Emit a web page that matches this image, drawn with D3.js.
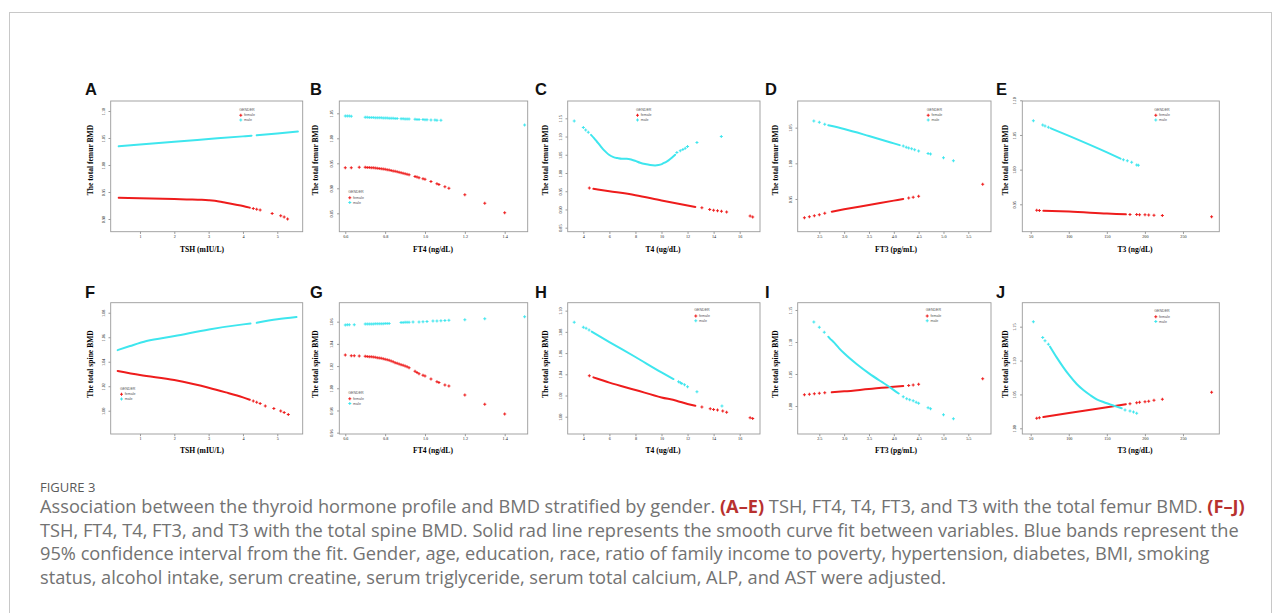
<!DOCTYPE html>
<html>
<head>
<meta charset="UTF-8">
<style>
  body { margin: 0; background: #fff; }
  svg { display: block; }
</style>
</head>
<body>
<svg width="1281" height="613"></svg>
<script src="https://cdn.jsdelivr.net/npm/d3@7"></script>
<script>

// ---- tick values ----
var xTicksTSH = [1, 2, 3, 4, 5];
var xTicksFT4 = [0.6, 0.8, 1.0, 1.2, 1.4];
var xTicksT4 = [4, 6, 8, 10, 12, 14, 16];
var xTicksFT3 = [2.5, 3.0, 3.5, 4.0, 4.5, 5.0, 5.5];
var xTicksT3 = [50, 100, 150, 200, 250];

var yTicksA = [0.90, 0.95, 1.00, 1.05, 1.10];
var yTicksB = [0.85, 0.90, 0.95, 1.00, 1.05];
var yTicksC = [0.85, 0.90, 0.95, 1.00, 1.05, 1.10, 1.15];
var yTicksD = [0.95, 1.00, 1.05];
var yTicksE = [0.95, 1.00, 1.05, 1.10];
var yTicksF = [1.00, 1.02, 1.04, 1.06, 1.08];
var yTicksG = [0.96, 0.98, 1.00, 1.02, 1.04, 1.06];
var yTicksH = [1.00, 1.02, 1.04, 1.06, 1.08, 1.10];
var yTicksI = [1.00, 1.05, 1.10, 1.15];
var yTicksJ = [1.00, 1.05, 1.10, 1.15];

// ---- fitted values: dense runs (lines) and single points (dots) ----
// A: TSH vs femur
var A_fLines = [[[0.38,0.9395],[1.0,0.9385],[2.0,0.937],[2.5,0.9363],[2.8,0.9355],[3.0,0.9346],[3.3,0.9325],[3.5,0.930],[3.8,0.9265],[4.0,0.924],[4.2,0.921]]];
var A_fDots = [[4.3,0.9195],[4.4,0.918],[4.5,0.9167],[4.85,0.910],[5.1,0.906],[5.2,0.9035],[5.3,0.900]];
var A_mLines = [[[0.38,1.0346],[1.0,1.0378],[2.0,1.0432],[3.0,1.0481],[4.0,1.053],[4.25,1.0543]], [[4.4,1.055],[5.0,1.0583],[5.6,1.062]]];
var A_mDots = [];

// B: FT4 vs femur
var B_fLines = [];
var B_fDots = [[0.60,0.9413],[0.63,0.9413],[0.67,0.942],[0.70,0.942],[0.71,0.9418],[0.72,0.9415],[0.73,0.9413],[0.74,0.941],[0.75,0.9407],[0.76,0.9403],[0.77,0.9398],[0.78,0.9393],[0.79,0.9387],[0.80,0.938],[0.81,0.9373],[0.82,0.9365],[0.83,0.9357],[0.84,0.9348],[0.85,0.9339],[0.86,0.933],[0.87,0.932],[0.88,0.931],[0.89,0.930],[0.90,0.929],[0.91,0.928],[0.92,0.927],[0.95,0.9235],[0.96,0.9225],[0.97,0.9213],[0.99,0.919],[1.00,0.918],[1.03,0.9135],[1.06,0.909],[1.07,0.9075],[1.10,0.9033],[1.12,0.900],[1.20,0.8873],[1.30,0.870],[1.40,0.8513]];
var B_mLines = [];
var B_mDots = [[0.60,1.0447],[0.61,1.0447],[0.62,1.0445],[0.63,1.0443],[0.70,1.042],[0.71,1.042],[0.72,1.0418],[0.73,1.0417],[0.74,1.0415],[0.75,1.0413],[0.76,1.0412],[0.77,1.041],[0.78,1.0409],[0.79,1.0408],[0.80,1.0407],[0.81,1.0405],[0.82,1.0403],[0.83,1.0402],[0.84,1.040],[0.85,1.0398],[0.86,1.0396],[0.88,1.0393],[0.89,1.039],[0.90,1.0387],[0.91,1.0386],[0.92,1.0384],[0.95,1.038],[0.96,1.0378],[0.97,1.0377],[0.99,1.0374],[1.00,1.0373],[1.01,1.0372],[1.03,1.0368],[1.05,1.0365],[1.06,1.0363],[1.08,1.036],[1.50,1.0267]];

// C: T4 vs femur
var C_fLines = [[[4.77,0.9565],[6.0,0.95],[8.0,0.9391],[10.0,0.9245],[12.0,0.9109],[12.6,0.907]]];
var C_fDots = [[4.46,0.959],[13.1,0.9045],[13.7,0.90],[14.0,0.8975],[14.3,0.8962],[14.6,0.8948],[15.0,0.8927],[16.8,0.8818],[17.0,0.8791]];
var C_mLines = [[[4.59,1.1045],[4.82,1.0955],[5.03,1.0864],[5.28,1.0755],[5.49,1.0664],[5.74,1.0573],[5.97,1.05],[6.31,1.0436],[6.62,1.0409],[6.95,1.0391],[7.33,1.0391],[7.72,1.0364],[7.97,1.0336],[8.36,1.0282],[8.74,1.0245],[9.13,1.0218],[9.51,1.0209],[9.77,1.0218],[10.03,1.0245],[10.28,1.0291],[10.54,1.0345],[10.79,1.0418],[11.05,1.05]]];
var C_mDots = [[3.3,1.1427],[4.0,1.1245],[4.18,1.1182],[4.38,1.1118],[11.18,1.0564],[11.44,1.0609],[11.64,1.0645],[11.82,1.0682],[12.0,1.0727],[12.72,1.0836],[14.59,1.10]];

// D: FT3 vs femur
var D_fLines = [[[2.75,0.9322],[3.0,0.9355],[3.5,0.9416],[4.0,0.9477],[4.19,0.95]]];
var D_fDots = [[2.2,0.9238],[2.3,0.9252],[2.4,0.9266],[2.5,0.928],[2.61,0.9299],[4.3,0.9512],[4.39,0.9523],[4.5,0.9537],[5.79,0.9706]];
var D_mLines = [[[2.68,1.0533],[3.0,1.0481],[3.5,1.0383],[4.0,1.028],[4.12,1.0255]]];
var D_mDots = [[2.39,1.0593],[2.5,1.0575],[2.61,1.0547],[4.19,1.0243],[4.25,1.0226],[4.3,1.0216],[4.36,1.0203],[4.42,1.019],[4.5,1.0173],[4.69,1.0136],[4.74,1.0131],[5.0,1.0079],[5.2,1.0037]];

// E: T3 vs femur
var E_fLines = [[[66.6,0.9408],[100.3,0.9395],[150.2,0.9367],[175,0.9355]]];
var E_fDots = [[57.9,0.9414],[61.4,0.941],[180.4,0.9352],[189.2,0.9352],[193,0.935],[200.1,0.9348],[205,0.9346],[211.9,0.9343],[222.9,0.9338],[287.6,0.9319]];
var E_mLines = [[[76,1.0598],[100.3,1.0486],[150.2,1.0248],[168,1.0158]]];
var E_mDots = [[53.5,1.0705],[65.8,1.0643],[68.8,1.0629],[73.2,1.061],[171.7,1.0143],[176.9,1.0129],[182.6,1.0105],[189.2,1.0067],[191.4,1.0062]];

// F: TSH vs spine
var F_fLines = [[[0.35,1.0324],[1.0,1.0291],[2.0,1.025],[2.55,1.0218],[3.0,1.0188],[3.5,1.015],[4.0,1.0109],[4.2,1.009]]];
var F_fDots = [[4.3,1.0079],[4.4,1.007],[4.5,1.006],[4.65,1.0038],[4.9,1.0019],[5.1,0.9997],[5.2,0.9985],[5.32,0.997]];
var F_mLines = [[[0.35,1.0495],[0.71,1.0528],[1.19,1.0569],[2.01,1.061],[3.01,1.0664],[4.01,1.0705],[4.22,1.0712]], [[4.4,1.0718],[5.0,1.0746],[5.56,1.0765]]];
var F_mDots = [];

// G: FT4 vs spine
var G_fLines = [];
var G_fDots = [[0.60,1.030],[0.63,1.0294],[0.645,1.0294],[0.67,1.0291],[0.70,1.0288],[0.71,1.0286],[0.72,1.0285],[0.73,1.0283],[0.74,1.0281],[0.75,1.0279],[0.76,1.0276],[0.77,1.0273],[0.78,1.027],[0.79,1.0266],[0.80,1.0261],[0.81,1.0257],[0.82,1.0252],[0.83,1.0245],[0.84,1.0238],[0.85,1.0231],[0.86,1.0225],[0.87,1.0219],[0.88,1.0213],[0.89,1.0207],[0.90,1.020],[0.91,1.0193],[0.92,1.0186],[0.95,1.0153],[0.96,1.0141],[0.97,1.013],[0.99,1.0117],[1.00,1.011],[1.03,1.0083],[1.06,1.0059],[1.07,1.0053],[1.10,1.0029],[1.12,1.002],[1.20,0.9939],[1.30,0.9855],[1.40,0.9768]];
var G_mLines = [];
var G_mDots = [[0.60,1.057],[0.61,1.0573],[0.62,1.0573],[0.645,1.0573],[0.70,1.0579],[0.71,1.0579],[0.72,1.058],[0.73,1.058],[0.74,1.058],[0.75,1.0581],[0.76,1.0581],[0.77,1.0582],[0.78,1.0582],[0.79,1.0582],[0.80,1.0583],[0.81,1.0583],[0.82,1.0584],[0.88,1.0592],[0.89,1.0593],[0.90,1.0594],[0.91,1.0594],[0.92,1.0595],[0.94,1.0596],[0.97,1.0598],[0.99,1.06],[1.01,1.0601],[1.04,1.0605],[1.06,1.0606],[1.08,1.0608],[1.10,1.061],[1.12,1.0612],[1.20,1.0618],[1.30,1.0627],[1.50,1.0645]];

// H: T4 vs spine
var H_fLines = [[[4.77,1.0371],[5.1,1.0358],[6.0,1.0321],[8.0,1.0252],[10.0,1.0182],[11.15,1.0151],[12.0,1.0119],[12.6,1.0103]]];
var H_fDots = [[4.46,1.0387],[13.1,1.0091],[13.74,1.0075],[14.0,1.0069],[14.3,1.0063],[14.7,1.0053],[15.0,1.0041],[16.8,0.9991],[17.0,0.9984]];
var H_mLines = [[[4.64,1.0802],[6.0,1.0704],[8.0,1.0563],[10.0,1.0418],[10.92,1.0355]]];
var H_mDots = [[3.3,1.089],[4.0,1.0843],[4.21,1.0833],[4.44,1.0818],[11.31,1.033],[11.45,1.032],[11.56,1.0314],[11.77,1.0302],[12.0,1.0283],[12.72,1.0236],[14.64,1.0101]];

// I: FT3 vs spine
var I_fLines = [[[2.75,1.0214],[3.0,1.0229],[3.5,1.0266],[4.0,1.0302],[4.19,1.0313]]];
var I_fDots = [[2.2,1.0177],[2.3,1.0185],[2.4,1.0193],[2.5,1.0198],[2.61,1.0207],[4.3,1.032],[4.39,1.0328],[4.5,1.0339],[5.79,1.0427]];
var I_mLines = [[[2.68,1.1083],[2.71,1.1057],[2.8,1.099],[2.9,1.0901],[3.0,1.0823],[3.25,1.0656],[3.5,1.051],[3.75,1.038],[3.9,1.0305],[4.0,1.0248],[4.1,1.0195]]];
var I_mDots = [[2.39,1.1313],[2.5,1.1229],[2.6,1.1151],[4.19,1.0146],[4.26,1.0115],[4.32,1.0098],[4.39,1.0083],[4.45,1.006],[4.5,1.0042],[4.69,0.9974],[4.74,0.9958],[5.0,0.9865],[5.2,0.9802]];

// J: T3 vs spine
var J_fLines = [[[66.6,1.0167],[100.3,1.0226],[150.2,1.031],[175,1.0355]]];
var J_fDots = [[57.9,1.0147],[61.4,1.0157],[180.4,1.0364],[189.2,1.0379],[193,1.0384],[200.1,1.0393],[205,1.04],[211.9,1.0413],[222.9,1.0428],[287.6,1.0531]];
var J_mLines = [[[75.4,1.1205],[84.1,1.1047],[92.9,1.09],[100.3,1.0787],[110.4,1.0654],[119.1,1.0565],[127.9,1.0492],[136.7,1.0428],[145.4,1.0388],[154.2,1.0354],[162.9,1.032],[169.5,1.0295]]];
var J_mDots = [[53.5,1.1573],[65.8,1.1342],[68.8,1.1293],[73.2,1.1239],[173.9,1.027],[180.4,1.0256],[185,1.024],[189.2,1.0221]];

var genders = ["female", "male"];
var xTitles = ["TSH (mIU/L)", "FT4 (ng/dL)", "T4 (ug/dL)", "FT3 (pg/mL)", "T3 (ng/dL)"];
var yTitles = ["The total femur BMD", "The total spine BMD"];

// ---- layout ----
var colX = [[110.7, 302.7], [339.3, 527.7], [567.7, 760], [797.7, 991], [1022.3, 1219.3]];
var rowY = [[101, 231.7], [302.7, 434]];
var yTitleX = [90, 315.5, 545, 775, 1005];
var xTitleX = [202, 433, 663, 896, 1135];
var letterX = [85, 310, 535, 765, 996];
var letterY = [95, 298];
var FEMALE = "#ee1c1c", MALE = "#3ee6ee";

var panels = [
  {id: "A", row: 0, col: 0, xDom: [0.147, 5.74], yDom: [0.8765, 1.1185], xTicks: xTicksTSH, yTicks: yTicksA, f: [A_fLines, A_fDots], m: [A_mLines, A_mDots], leg: [128.6, 8.3], xf: "d"},
  {id: "B", row: 0, col: 1, xDom: [0.570, 1.5154], yDom: [0.8132, 1.0746], xTicks: xTicksFT4, yTicks: yTicksB, f: [B_fLines, B_fDots], m: [B_mLines, B_mDots], leg: [9, 90.7], xf: ".1f"},
  {id: "C", row: 0, col: 2, xDom: [2.80, 17.56], yDom: [0.839, 1.1975], xTicks: xTicksT4, yTicks: yTicksC, f: [C_fLines, C_fDots], m: [C_mLines, C_mDots], leg: [68.3, 8.3], xf: "d"},
  {id: "D", row: 0, col: 3, xDom: [2.065, 5.957], yDom: [0.9041, 1.0874], xTicks: xTicksFT3, yTicks: yTicksD, f: [D_fLines, D_fDots], m: [D_mLines, D_mDots], leg: [129, 8.3], xf: ".1f"},
  {id: "E", row: 0, col: 4, xDom: [38.97, 297.7], yDom: [0.9105, 1.099], xTicks: xTicksT3, yTicks: yTicksE, f: [E_fLines, E_fDots], m: [E_mLines, E_mDots], leg: [132, 8.3], xf: "d"},
  {id: "F", row: 1, col: 0, xDom: [0.147, 5.74], yDom: [0.981, 1.0882], xTicks: xTicksTSH, yTicks: yTicksF, f: [F_fLines, F_fDots], m: [F_mLines, F_mDots], leg: [9.3, 85.6], xf: "d"},
  {id: "G", row: 1, col: 1, xDom: [0.570, 1.5154], yDom: [0.9588, 1.0771], xTicks: xTicksFT4, yTicks: yTicksG, f: [G_fLines, G_fDots], m: [G_mLines, G_mDots], leg: [9, 90], xf: ".1f"},
  {id: "H", row: 1, col: 2, xDom: [2.80, 17.56], yDom: [0.9837, 1.1075], xTicks: xTicksT4, yTicks: yTicksH, f: [H_fLines, H_fDots], m: [H_mLines, H_mDots], leg: [126.6, 7.3], xf: "d"},
  {id: "I", row: 1, col: 3, xDom: [2.065, 5.957], yDom: [0.9563, 1.1614], xTicks: xTicksFT3, yTicks: yTicksI, f: [I_fLines, I_fDots], m: [I_mLines, I_mDots], leg: [128, 7.3], xf: ".1f"},
  {id: "J", row: 1, col: 4, xDom: [38.97, 297.7], yDom: [0.9916, 1.1854], xTicks: xTicksT3, yTicks: yTicksJ, f: [J_fLines, J_fDots], m: [J_mLines, J_mDots], leg: [132, 8], xf: "d"}
];

var svg = d3.select("svg");

// outer frame
svg.append("rect")
  .attr("x", 9.5).attr("y", 12.5).attr("width", 1262).attr("height", 700)
  .attr("fill", "none").attr("stroke", "#c8c8c8").attr("stroke-width", 1);

var line = d3.line()
  .curve(d3.curveMonotoneX);

var cross = d3.symbol().type(d3.symbolCross).size(5);

panels.forEach(function(p) {
  var x0 = colX[p.col][0], x1 = colX[p.col][1],
    y0 = rowY[p.row][0], y1 = rowY[p.row][1];

  var x = d3.scaleLinear().domain(p.xDom).range([x0, x1]);
  var y = d3.scaleLinear().domain(p.yDom).range([y1, y0]);

  var g = svg.append("g");

  // x axis
  var gx = g.append("g")
    .attr("transform", "translate(0," + y1 + ")")
    .call(d3.axisBottom(x).tickValues(p.xTicks).tickSize(2.2).tickPadding(1.2).tickFormat(d3.format(p.xf)));
  gx.select(".domain").remove();
  gx.selectAll("line").attr("stroke", "#555").attr("stroke-width", 0.6);
  gx.selectAll("text").attr("font-family", "Liberation Serif").attr("font-size", 4.2).attr("fill", "#222");

  // y axis, labels parallel to the axis
  var gy = g.append("g")
    .attr("transform", "translate(" + x0 + ",0)")
    .call(d3.axisLeft(y).tickValues(p.yTicks).tickSize(2.2).tickFormat(d3.format(".2f")));
  gy.select(".domain").remove();
  gy.selectAll("line").attr("stroke", "#555").attr("stroke-width", 0.6);
  gy.selectAll("text")
    .attr("font-family", "Liberation Serif").attr("font-size", 4.2).attr("fill", "#222")
    .attr("text-anchor", "middle").attr("dy", 0).attr("x", 0).attr("y", -6)
    .attr("transform", "rotate(-90)");

  // box
  g.append("rect")
    .attr("x", x0).attr("y", y0).attr("width", x1 - x0).attr("height", y1 - y0)
    .attr("fill", "none").attr("stroke", "#9a9a9a").attr("stroke-width", 0.9);

  line.x(function(d) { return x(d[0]); }).y(function(d) { return y(d[1]); });

  // series: female first, then male
  [[p.f, FEMALE], [p.m, MALE]].forEach(function(s) {
    var runs = s[0][0], dots = s[0][1], col = s[1];
    runs.forEach(function(run) {
      g.append("path")
        .datum(run)
        .attr("fill", "none")
        .attr("stroke", col)
        .attr("stroke-width", 2)
        .attr("stroke-linecap", "round")
        .attr("d", line);
    });
    g.selectAll(null)
      .data(dots)
      .enter().append("path")
        .attr("d", cross)
        .attr("fill", col)
        .attr("transform", function(d) { return "translate(" + x(d[0]) + "," + y(d[1]) + ")"; });
  });

  // legend
  var lx = x0 + p.leg[0], ly = y0 + p.leg[1];
  var lg = g.append("g").attr("transform", "translate(" + lx + "," + ly + ")")
    .attr("font-family", "Liberation Sans").attr("font-size", 3.6).attr("fill", "#555");
  lg.append("text").attr("x", 0).attr("y", 1.2).text("GENDER");
  genders.forEach(function(gname, i) {
    lg.append("path")
      .attr("d", cross)
      .attr("fill", i === 0 ? FEMALE : MALE)
      .attr("transform", "translate(1.5," + (6 + i * 4.8) + ")");
    lg.append("text").attr("x", 4.8).attr("y", 7.2 + i * 4.8).text(gname);
  });

  // axis titles
  g.append("text")
    .attr("x", xTitleX[p.col]).attr("y", p.row === 0 ? 251.5 : 453.3)
    .attr("text-anchor", "middle")
    .attr("font-family", "Liberation Serif").attr("font-weight", "bold").attr("font-size", 7.6)
    .text(xTitles[p.col]);

  g.append("text")
    .attr("transform", "translate(" + yTitleX[p.col] + "," + (p.row === 0 ? 160 : 364) + ") rotate(-90)")
    .attr("text-anchor", "middle").attr("dy", "0.35em")
    .attr("font-family", "Liberation Serif").attr("font-weight", "bold").attr("font-size", 7.6)
    .text(yTitles[p.row]);

  // panel letter
  g.append("text")
    .attr("x", letterX[p.col]).attr("y", letterY[p.row])
    .attr("font-family", "Liberation Sans").attr("font-weight", "bold").attr("font-size", 16.5)
    .attr("fill", "#111")
    .text(p.id);
});

// ---- caption ----
var capLines = [
  [["Association between the thyroid hormone profile and BMD stratified by gender. ", 0], ["(A\u2013E)", 1], [" TSH, FT4, T4, FT3, and T3 with the total femur BMD. ", 0], ["(F\u2013J)", 1]],
  [["TSH, FT4, T4, FT3, and T3 with the total spine BMD. Solid rad line represents the smooth curve fit between variables. Blue bands represent the", 0]],
  [["95% confidence interval from the fit. Gender, age, education, race, ratio of family income to poverty, hypertension, diabetes, BMI, smoking", 0]],
  [["status, alcohol intake, serum creatine, serum triglyceride, serum total calcium, ALP, and AST were adjusted.", 0]]
];
var capY = [513, 536.5, 560, 583.5];

svg.append("text")
  .attr("x", 40).attr("y", 492)
  .attr("font-family", "Open Sans").attr("font-size", 13).attr("fill", "#5a5a5a")
  .text("FIGURE 3");

var capTexts = capLines.map(function(segs, i) {
  var t = svg.append("text")
    .attr("x", 40).attr("y", capY[i])
    .attr("font-family", "Open Sans").attr("font-size", 16).attr("fill", "#727272");
  segs.forEach(function(s) {
    t.append("tspan")
      .attr("font-weight", s[1] ? "bold" : null)
      .attr("fill", s[1] ? "#b8312f" : null)
      .text(s[0]);
  });
  return t;
});

// fit the caption to the width of its second line
var w = capTexts[1].node().getComputedTextLength();
var fs = 16 * 1199 / w;
capTexts.forEach(function(t) { t.attr("font-size", fs); });

</script>
</body>
</html>
